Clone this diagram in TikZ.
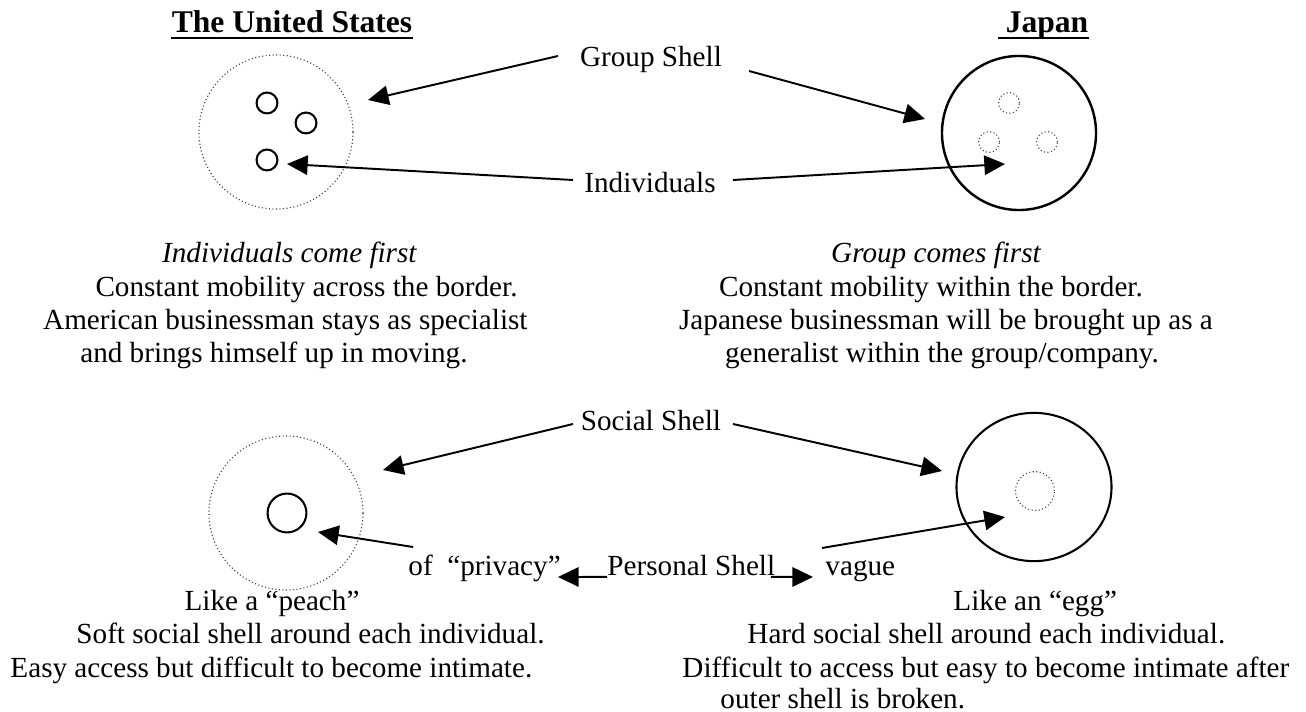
\documentclass[tikz,border=0pt]{standalone}
\usepackage{fontspec}
\setmainfont{Liberation Serif}
\usetikzlibrary{arrows.meta,shapes.geometric}
\tikzset{
  txt/.style={inner sep=0pt, anchor=base, font=\fontsize{12}{14}\selectfont},
  ttl/.style={txt, font=\fontsize{13}{15}\selectfont\bfseries},
  arr/.style={line width=0.8pt, -{Triangle[length=8.5pt,width=8pt]}},
  dotc/.style={draw=black!75, densely dotted, line width=0.45pt, inner sep=0pt},
  solc/.style={draw, line width=0.85pt, inner sep=0pt},
  shell/.style={circle, minimum size=63.4pt},
  indiv/.style={circle, minimum size=8.6pt},
  pers/.style={circle, minimum size=16pt},
  uline/.style={line width=0.9pt}
}
\begin{document}
\begin{tikzpicture}[x=0.4115pt,y=-0.4115pt]
\useasboundingbox (0,0) rectangle (1306,712);
% titles
\node[ttl] (ust) at (292,33) {The United States};
\node[ttl] (jpt) at (1047,33) {Japan};
\draw[uline] ([yshift=-2.2pt]ust.base west) -- ([yshift=-2.2pt]ust.base east);
\draw[uline] ([yshift=-2.2pt,xshift=-2.8pt]jpt.base west) -- ([yshift=-2.2pt]jpt.base east);
% top circles
\node[shell, dotc] (usg) at (276,132) {};
\node[indiv, solc] (usi1) at (267,103) {};
\node[indiv, solc] (usi2) at (306,123) {};
\node[indiv, solc] (usi3) at (267,160) {};
\node[shell, solc, line width=1pt] (jpg) at (1019,133) {};
\node[indiv, dotc] (jpi1) at (1009,103) {};
\node[indiv, dotc] (jpi2) at (989,142) {};
\node[indiv, dotc] (jpi3) at (1047,142) {};
% top labels
\node[txt] (gs) at (651,67) {Group Shell};
\node[txt] (ind) at (650,193) {Individuals};
\coordinate (gsL) at (558,56);
\coordinate (gsR) at (749,71);
\coordinate (indL) at (573,180);
\coordinate (indR) at (733,180);
\coordinate (usgT) at (368,100);
\coordinate (jpgT) at (925,119);
\coordinate (usiT) at (287,164);
\coordinate (jpiT) at (1005,164);
\draw[arr] (gsL) -- (usgT);
\draw[arr] (gsR) -- (jpgT);
\draw[arr] (indL) -- (usiT);
\draw[arr] (indR) -- (jpiT);
% middle text
\node[txt, anchor=base east, font=\fontsize{12}{14}\selectfont\itshape] (l1) at (417,263) {Individuals come first};
\node[txt, anchor=base east] (l2) at (518,297) {Constant mobility across the border.};
\node[txt, anchor=base east] (l3) at (528,330) {American businessman stays as specialist};
\node[txt, anchor=base east] (l4) at (468,363) {and brings himself up in moving.};
\node[txt, font=\fontsize{12}{14}\selectfont\itshape] (r1) at (936,263) {Group comes first};
\node[txt] (r2) at (931,297) {Constant mobility within the border.};
\node[txt] (r3) at (946,330) {Japanese businessman will be brought up as a};
\node[txt] (r4) at (942,363) {generalist within the group/company.};
% bottom circles
\node[shell, dotc] (uss) at (286,513) {};
\node[pers, solc] (usp) at (287,513) {};
\node[ellipse, solc, minimum width=63.8pt, minimum height=61pt] (jps) at (1034,487) {};
\node[pers, dotc] (jpp) at (1035,491) {};
% bottom labels
\node[txt] (ss) at (651,431) {Social Shell};
\coordinate (ssL) at (573,424);
\coordinate (ssR) at (733,424);
\coordinate (ussT) at (383,470);
\coordinate (jpsT) at (942,471);
\draw[arr] (ssL) -- (ussT);
\draw[arr] (ssR) -- (jpsT);
\node[txt, anchor=base west] (priv) at (408,575) {of\ \ “privacy”};
\node[txt, anchor=base west] (ps) at (607,575) {Personal Shell};
\node[txt, anchor=base west] (vag) at (825,575) {vague};
\coordinate (privS) at (413,547);
\coordinate (uspT) at (318,532);
\coordinate (vagS) at (822,548);
\coordinate (jppT) at (1005,517);
\coordinate (psLT) at (558,577);
\coordinate (psRT) at (813,577);
\draw[arr] (privS) -- (uspT);
\draw[arr] (vagS) -- (jppT);
\draw[arr] ([yshift=-0.8pt]ps.base west) -- (psLT);
\draw[arr] ([yshift=-0.8pt,xshift=-2pt]ps.base east) -- (psRT);
% bottom text
\node[txt] (b1) at (272,610) {Like a “peach”};
\node[txt, anchor=base west] (b2) at (76,643) {Soft social shell around each individual.};
\node[txt, anchor=base west] (b3) at (10,677) {Easy access but difficult to become intimate.};
\node[txt, anchor=base west] (c1) at (953,610) {Like an “egg”};
\node[txt, anchor=base west] (c2) at (747,643) {Hard social shell around each individual.};
\node[txt, anchor=base west] (c3) at (682,677) {Difficult to access but easy to become intimate after};
\node[txt, anchor=base west] (c4) at (720,708) {outer shell is broken.};
\end{tikzpicture}
\end{document}
